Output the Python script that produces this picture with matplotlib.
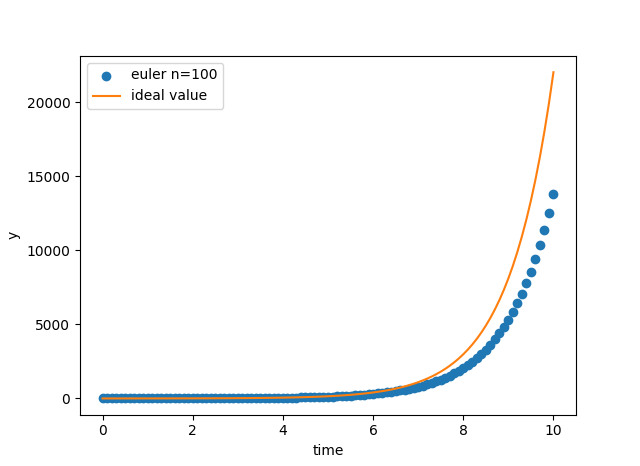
import matplotlib
matplotlib.use("Agg")
import matplotlib.pyplot as plt

time = [round(0.1 * k, 1) for k in range(101)]

euler_y = [
    1.0, 1.1, 1.21, 1.331, 1.4641, 1.61051, 1.771561, 1.948717, 2.143589, 2.357948,
    2.593742, 2.853117, 3.138428, 3.452271, 3.797498, 4.177248, 4.594973, 5.05447, 5.559917, 6.115909,
    6.7275, 7.40025, 8.140275, 8.954302, 9.849733, 10.834706, 11.918177, 13.109994, 14.420994, 15.863093,
    17.449402, 19.194342, 21.113777, 23.225154, 25.54767, 28.102437, 30.912681, 34.003949, 37.404343, 41.144778,
    45.259256, 49.785181, 54.763699, 60.240069, 66.264076, 72.890484, 80.179532, 88.197485, 97.017234, 106.718957,
    117.390853, 129.129938, 142.042932, 156.247225, 171.871948, 189.059142, 207.965057, 228.761562, 251.637719, 276.80149,
    304.48164, 334.929804, 368.422784, 405.265063, 445.791569, 490.370726, 539.407799, 593.348579, 652.683437, 717.95178,
    789.746958, 868.721654, 955.59382, 1051.153202, 1156.268522, 1271.895374, 1399.084911, 1538.993402, 1692.892742, 1862.182017,
    2048.400219, 2253.24024, 2478.564264, 2726.42069, 2999.06276, 3298.969036, 3628.865939, 3991.752533, 4390.927787, 4830.020565,
    5313.022622, 5844.324884, 6428.757372, 7071.633109, 7778.79642, 8556.676062, 9412.343668, 10353.578035, 11388.935839, 12527.829423,
    13780.612365,
]

ideal_y = [
    1.0, 1.105, 1.221, 1.350, 1.492, 1.649, 1.822, 2.014, 2.226, 2.460,
    2.718, 3.004, 3.320, 3.669, 4.055, 4.482, 4.953, 5.474, 6.050, 6.686,
    7.389, 8.166, 9.025, 9.974, 11.023, 12.182, 13.464, 14.880, 16.445, 18.174,
    20.086, 22.198, 24.533, 27.113, 29.964, 33.115, 36.598, 40.447, 44.701, 49.402,
    54.598, 60.340, 66.686, 73.700, 81.451, 90.017, 99.484, 109.947, 121.510, 134.290,
    148.413, 164.022, 181.272, 200.337, 221.406, 244.692, 270.426, 298.867, 330.300, 365.037,
    403.429, 445.858, 492.749, 544.572, 601.845, 665.142, 735.095, 812.406, 897.847, 992.275,
    1096.633, 1211.967, 1339.431, 1480.300, 1635.984, 1808.042, 1998.196, 2208.348, 2440.602, 2697.282,
    2980.958, 3294.468, 3640.950, 4023.872, 4447.067, 4914.769, 5431.660, 6002.912, 6634.244, 7331.974,
    8103.084, 8955.293, 9897.129, 10938.019, 12088.381, 13359.727, 14764.782, 16317.607, 18033.744, 19930.370,
    22026.466,
]

fig, ax = plt.subplots(figsize=(6.4, 4.66), dpi=100)
ax.scatter(time, euler_y, label="euler n=100")
ax.plot(time, ideal_y, color="C1", label="ideal value")
ax.set_xlabel("time")
ax.set_ylabel("y")
ax.legend(loc="upper left")
fig.savefig("out.png", dpi=100)
